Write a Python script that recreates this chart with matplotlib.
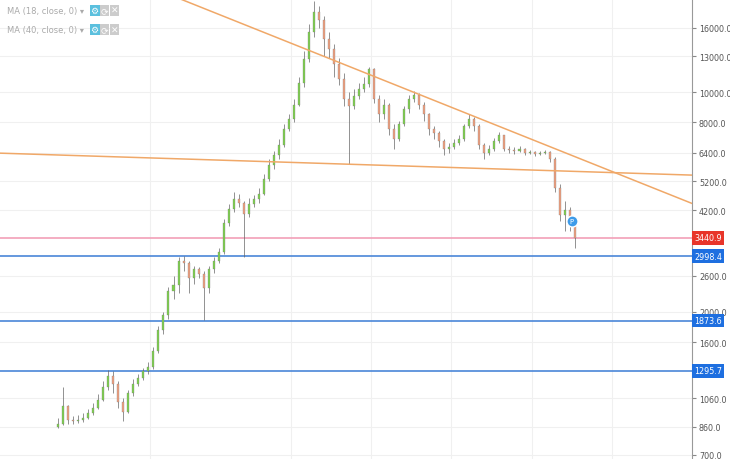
import matplotlib.pyplot as plt
from matplotlib.ticker import FixedLocator, NullLocator

closes = [880, 1000, 905, 900, 905, 920, 950, 990, 1050, 1150, 1250, 1180, 1030, 960, 1100,
          1180, 1230, 1290, 1330, 1500, 1750, 1950, 2330, 2430, 2890, 2850, 2550, 2740, 2640, 2370,
          2730, 2900, 3100, 3820, 4240, 4560, 4450, 4100, 4400, 4560, 4740, 5280, 5850, 6300, 6800,
          7620, 8200, 9100, 10650, 12700, 15500, 18000, 17000, 14800, 13700, 12300, 11000, 9500, 9000, 9700,
          10200, 10600, 11800, 9500, 8500, 9100, 7600, 7100, 7900, 8800, 9500, 9800, 9100, 8500, 7600,
          7400, 7000, 6600, 6700, 6900, 7100, 7800, 8200, 7800, 6800, 6400, 6600, 7000, 7300, 6600,
          6550, 6500, 6600, 6400, 6450, 6350, 6380, 6450, 6100, 4950, 4050, 4200, 3800, 3420]
highs = [920, 1150, 1010, 930, 940, 950, 980, 1020, 1090, 1200, 1300, 1290, 1200, 1060, 1130,
         1220, 1270, 1320, 1380, 1540, 1800, 2000, 2400, 2600, 2980, 3000, 2900, 2800, 2780, 2700,
         2800, 2980, 3180, 3950, 4400, 4800, 4750, 4500, 4600, 4700, 4950, 5500, 6100, 6500, 7100,
         7900, 8500, 9500, 11200, 13500, 16500, 19500, 18800, 17500, 15500, 14200, 12800, 11500, 10000, 10200,
         10700, 11200, 12000, 11900, 9800, 9500, 9200, 7900, 8100, 9000, 9800, 10100, 9900, 9300, 8600,
         7800, 7500, 7100, 6900, 7100, 7300, 7900, 8500, 8300, 7900, 6900, 6800, 7150, 7450, 7300,
         6750, 6700, 6750, 6650, 6550, 6500, 6480, 6550, 6500, 6200, 5100, 4500, 4300, 3900]
lows = [850, 870, 880, 880, 885, 890, 910, 940, 980, 1040, 1130, 1100, 990, 900, 950,
        1080, 1160, 1210, 1270, 1310, 1480, 1700, 1900, 2200, 2300, 2700, 2300, 2450, 2550, 1880,
        2300, 2650, 2850, 3050, 3750, 4150, 4300, 2980, 4000, 4300, 4450, 4700, 5200, 5700, 6100,
        6700, 7500, 8000, 9000, 10400, 12500, 15000, 16000, 13000, 12800, 11200, 10500, 9000, 5900, 8800,
        9500, 10000, 10400, 9200, 8000, 8200, 7300, 6600, 7000, 7800, 8600, 9300, 8800, 8100, 7300,
        7100, 6700, 6300, 6400, 6600, 6800, 7000, 7700, 7500, 6600, 6100, 6300, 6500, 6900, 6500,
        6400, 6350, 6450, 6300, 6350, 6250, 6300, 6350, 6000, 4800, 3900, 3600, 3600, 3200]

levels_blue = [2998.4, 1873.6, 1295.7]
level_red = 3440.9
tick_values = [700, 860, 1060, 1600, 2000, 2600, 4200, 5200, 6400, 8000, 10000, 13000, 16000]
trend_flat = ([-11.6, 126.4], [6390, 5440])
trend_down = ([24.4, 126.4], [19770, 4420])

fig = plt.figure(figsize=(7.3, 4.6), dpi=100)
ax = fig.add_axes([0, 0, 692 / 730, 1])
ax.set_yscale('log')
ax.set_ylim(679, 19780)
ax.set_xlim(-11.6, 126.4)

ax.yaxis.set_major_locator(FixedLocator(tick_values))
ax.yaxis.set_minor_locator(NullLocator())
ax.yaxis.set_major_formatter(plt.FuncFormatter(lambda v, p: f'{v:.1f}'))
ax.yaxis.tick_right()
ax.tick_params(axis='y', labelsize=5.8, labelcolor='#555555', length=3, color='#888888', pad=2)
ax.set_xticks([])
ax.set_xticks([18.4, 46.4, 62.4, 78.4, 94.4, 110.4], minor=True)
ax.grid(True, which='major', axis='y', color='#f0f0f0', lw=0.8)
ax.grid(True, which='minor', axis='x', color='#f0f0f0', lw=0.8)
ax.tick_params(axis='x', which='minor', length=0)
for s in ['top', 'left', 'bottom']:
    ax.spines[s].set_visible(False)
ax.spines['right'].set_color('#999999')

prev = 860
for i, c in enumerate(closes):
    col = '#7fd04f' if c >= prev else '#f0a080'
    ax.vlines(i, lows[i], highs[i], color='#666666', lw=0.5, zorder=3)
    ax.bar(i, abs(c - prev), bottom=min(c, prev), width=0.4, color=col,
           edgecolor='#777777', lw=0.2, zorder=4)
    prev = c

for v in levels_blue:
    ax.axhline(v, color='#4a86d8', lw=1.2, zorder=2)
    ax.text(1.003, v, f'{v:.1f}', transform=ax.get_yaxis_transform(), va='center', ha='left',
            fontsize=5.8, color='white', bbox=dict(boxstyle='square,pad=0.3', fc='#1e6fe0', ec='none'))
ax.axhline(level_red, color='#f2a0b8', lw=1.2, zorder=2)
ax.text(1.003, level_red, f'{level_red:.1f}', transform=ax.get_yaxis_transform(), va='center',
        ha='left', fontsize=5.8, color='white',
        bbox=dict(boxstyle='square,pad=0.3', fc='#e8352a', ec='none'))

ax.plot(*trend_flat, color='#f0a868', lw=1.1, zorder=5)
ax.plot(*trend_down, color='#f0a868', lw=1.1, zorder=5)

ax.plot(102.4, 3900, 'o', ms=8, color='#3d9be9', mec='white', zorder=6)
ax.text(102.4, 3900, 'P', color='white', fontsize=5, ha='center', va='center', zorder=7)

for k, lab in enumerate(['MA (18, close, 0) ▾', 'MA (40, close, 0) ▾']):
    y = 0.985 - k * 0.042
    fig.text(0.01, y, lab, fontsize=6, color='#aaaaaa', va='top')
    fig.text(0.124, y, '⚙', fontsize=6.5, color='white', va='top',
             bbox=dict(boxstyle='square,pad=0.1', fc='#5bc0de', ec='none'))
    fig.text(0.138, y, '⟳', fontsize=6.5, color='white', va='top',
             bbox=dict(boxstyle='square,pad=0.1', fc='#cccccc', ec='none'))
    fig.text(0.152, y, '✕', fontsize=6.5, color='white', va='top',
             bbox=dict(boxstyle='square,pad=0.1', fc='#cccccc', ec='none'))

fig.savefig('out.png', dpi=100)
